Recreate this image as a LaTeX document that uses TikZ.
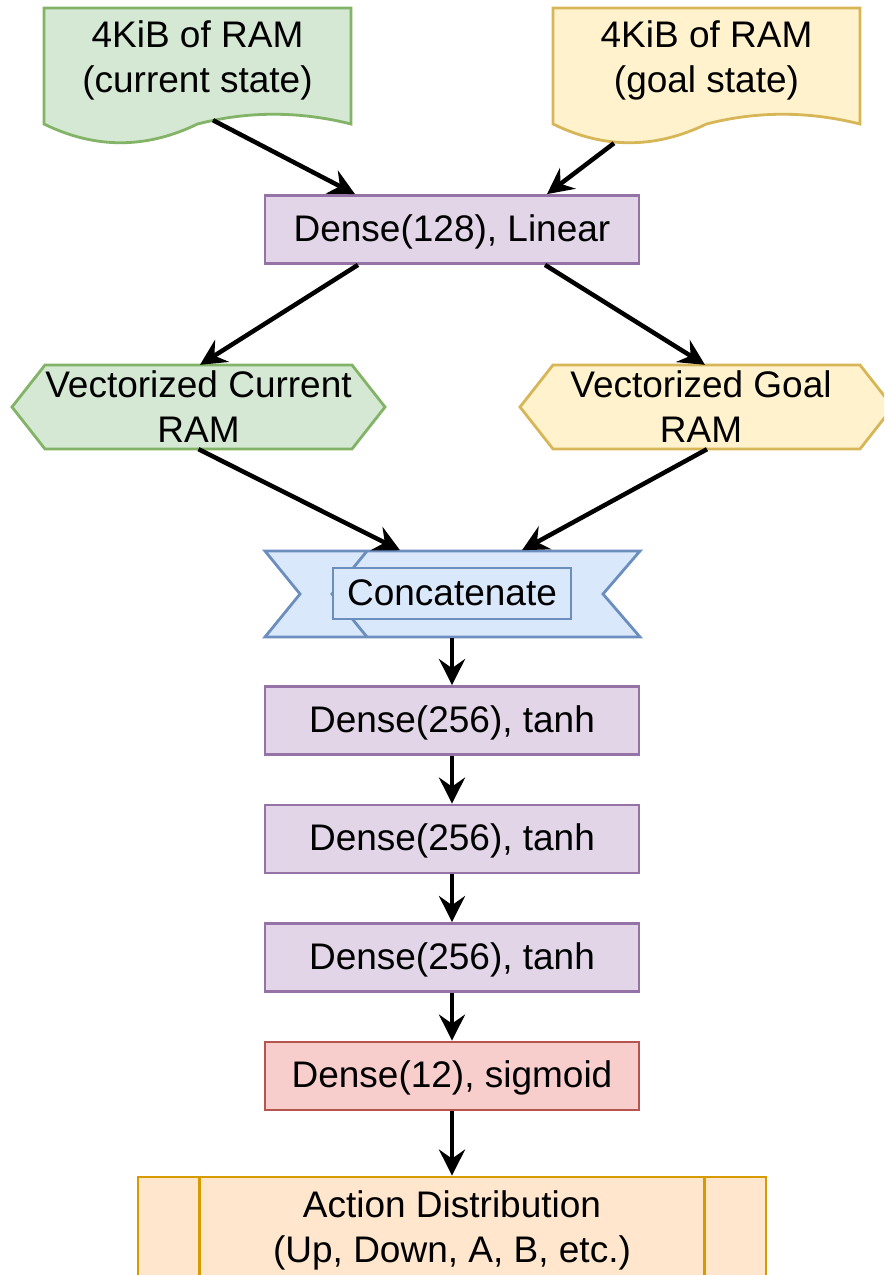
\documentclass[tikz,border=0pt]{standalone}
\usepackage{fontspec}
\setmainfont{Liberation Sans}
\usetikzlibrary{arrows.meta,calc}

\definecolor{greenfill}{HTML}{D5E8D4}
\definecolor{greenline}{HTML}{82B366}
\definecolor{yellowfill}{HTML}{FFF2CC}
\definecolor{yellowline}{HTML}{D6B656}
\definecolor{purplefill}{HTML}{E1D5E7}
\definecolor{purpleline}{HTML}{9673A6}
\definecolor{bluefill}{HTML}{DAE8FC}
\definecolor{blueline}{HTML}{6C8EBF}
\definecolor{redfill}{HTML}{F8CECC}
\definecolor{redline}{HTML}{B85450}
\definecolor{orangefill}{HTML}{FFE6CC}
\definecolor{orangeline}{HTML}{D79B00}

\begin{document}
\begin{tikzpicture}[
  x=1pt, y=-1pt,
  lbl/.style={font=\fontsize{37}{45}\selectfont, align=center, inner sep=0pt},
  layer/.style={lbl, draw=purpleline, fill=purplefill, line width=2.8pt,
    minimum width=374pt, minimum height=68pt, text height=26pt, text depth=3pt},
  outshape/.style={line width=2.8pt, line join=miter},
  arr/.style={line width=4.5pt, -{Stealth[length=26pt,width=26pt,inset=9pt]}},
]
\useasboundingbox (0,0) rectangle (884,1275);
\clip (0,0) rectangle (884,1275);

% input documents (wavy bottom edge)
\path[outshape, draw=greenline, fill=greenfill]
  (44,8) -- (351,8) -- (351,124)
  .. controls (299,111) and (248,111) .. (197.5,124)
  .. controls (146,149) and (95,149) .. (44,124) -- cycle;
\path[outshape, draw=yellowline, fill=yellowfill]
  (553,8) -- (860,8) -- (860,124)
  .. controls (808,111) and (757,111) .. (706.5,124)
  .. controls (655,149) and (604,149) .. (553,124) -- cycle;
\node[lbl, minimum width=307pt, minimum height=104pt] (doc1) at (197.5,60)
  {4KiB of RAM\\(current state)};
\node[lbl, minimum width=307pt, minimum height=104pt] (doc2) at (706.5,60)
  {4KiB of RAM\\(goal state)};

% shared embedding layer
\node[layer] (lin) at (452,229.5) {Dense(128), Linear};

% embedded vectors (hexagons)
\path[outshape, draw=greenline, fill=greenfill]
  (12,407) -- (45,365) -- (352,365) -- (385,407) -- (352,449) -- (45,449) -- cycle;
\path[outshape, draw=yellowline, fill=yellowfill]
  (520,407) -- (553,365) -- (860,365) -- (893,407) -- (860,449) -- (553,449) -- cycle;
\node[lbl, minimum width=340pt, minimum height=84pt] (hexL) at (198.5,407)
  {Vectorized Current\\RAM};
\node[lbl, minimum width=340pt, minimum height=84pt] (hexR) at (701,407)
  {Vectorized Goal\\RAM};

% concatenation ribbon
\path[outshape, draw=blueline, fill=bluefill]
  (265,551) -- (640,551) -- (603,594) -- (640,637) -- (265,637) -- (300,594) -- cycle;
\draw[outshape, draw=blueline] (367,551) -- (332,594) -- (367,637);
\node[lbl, draw=blueline, fill=bluefill, line width=1.5pt,
  minimum width=238pt, minimum height=51pt, text height=26pt, text depth=3pt]
  (cat) at (452,593.5) {Concatenate};

% dense stack
\node[layer] (d1) at (452,720.5) {Dense(256), tanh};
\node[layer] (d2) at (452,839) {Dense(256), tanh};
\node[layer] (d3) at (452,957.5) {Dense(256), tanh};
\node[layer, draw=redline, fill=redfill] (sig) at (452,1076) {Dense(12), sigmoid};

% output process box
\node[lbl, draw=orangeline, fill=orangefill, line width=2.8pt,
  minimum width=628pt, minimum height=106pt] (act) at (452,1230)
  {Action Distribution\\(Up, Down, A, B, etc.)};
\draw[orangeline, line width=2.8pt]
  ($(act.north west)+(63,0)$) -- ($(act.south west)+(63,0)$);
\draw[orangeline, line width=2.8pt]
  ($(act.north east)+(-63,0)$) -- ($(act.south east)+(-63,0)$);

% connectors
\draw[arr] ($(doc1.south)+(15.5,8)$) -- ($(lin.north)+(-97,0)$);
\draw[arr] ($(doc2.south)+(-92.5,31)$) -- ($(lin.north)+(95,0)$);
\draw[arr] ($(lin.south)+(-94,0)$) -- ($(hexL.north)+(1.5,0)$);
\draw[arr] ($(lin.south)+(93,0)$) -- ($(hexR.north)+(4,0)$);
\draw[arr] (hexL.south) -- ($(cat.north)+(-52,-17)$);
\draw[arr] ($(hexR.south)+(6,0)$) -- ($(cat.north)+(70,-17)$);
\draw[arr] ($(cat.south)+(0,18)$) -- (d1.north);
\draw[arr] (d1) -- (d2);
\draw[arr] (d2) -- (d3);
\draw[arr] (d3) -- (sig);
\draw[arr] (sig) -- (act);
\end{tikzpicture}
\end{document}
